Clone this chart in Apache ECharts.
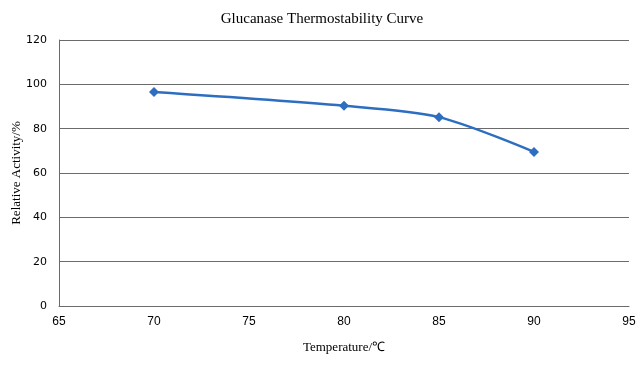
<!DOCTYPE html>
<html>
<head>
<meta charset="utf-8">
<script src="https://cdn.jsdelivr.net/npm/echarts@6/dist/echarts.min.js"></script>
<style>
  html, body { margin: 0; padding: 0; background: #fff; }
  #chart { width: 644px; height: 377px; }
</style>
</head>
<body>
<div id="chart"></div>
<script>
// Temperature (°C) vs relative activity (%)
const temperatures = [70, 80, 85, 90];
const activity = [96.5, 90.3, 85.2, 69.5];

const chart = echarts.init(document.getElementById('chart'));

const gridColor = '#6b6b6b';

chart.setOption({
  backgroundColor: '#fff',
  animation: false,
  title: {
    text: 'Glucanase Thermostability Curve',
    left: 'center',
    top: 7,
    textStyle: {
      fontFamily: 'Liberation Serif',
      fontWeight: 'normal',
      fontSize: 15,
      color: '#000'
    }
  },
  grid: { left: 59, right: 15, top: 40, bottom: 71, containLabel: false, outerBoundsMode: 'none' },
  xAxis: {
    type: 'value',
    min: 65,
    max: 95,
    interval: 5,
    name: 'Temperature/℃',
    nameLocation: 'middle',
    nameGap: 35,
    nameTextStyle: { fontFamily: 'Liberation Serif', fontSize: 13, color: '#000' },
    axisLine: { lineStyle: { color: gridColor } },
    axisTick: { show: false },
    axisLabel: { fontFamily: 'Liberation Sans', fontSize: 12, color: '#000', margin: 10 },
    splitLine: { show: false }
  },
  yAxis: {
    type: 'value',
    min: 0,
    max: 120,
    interval: 20,
    name: 'Relative Activity/%',
    nameLocation: 'middle',
    nameGap: 36,
    nameMoveOverlap: false,
    nameTextStyle: { fontFamily: 'Liberation Serif', fontSize: 13, color: '#000' },
    axisLine: { show: true, lineStyle: { color: gridColor } },
    axisTick: { show: false },
    axisLabel: { fontFamily: 'DejaVu Sans', fontSize: 11, color: '#000', margin: 12 },
    splitLine: { lineStyle: { color: gridColor } }
  },
  series: [{
    type: 'line',
    data: temperatures.map((t, i) => [t, activity[i]]),
    smooth: 0.3,
    symbol: 'diamond',
    symbolSize: 10,
    lineStyle: { color: '#2E6EC1', width: 2.5 },
    itemStyle: { color: '#2E6EC1' }
  }]
});
</script>
</body>
</html>
